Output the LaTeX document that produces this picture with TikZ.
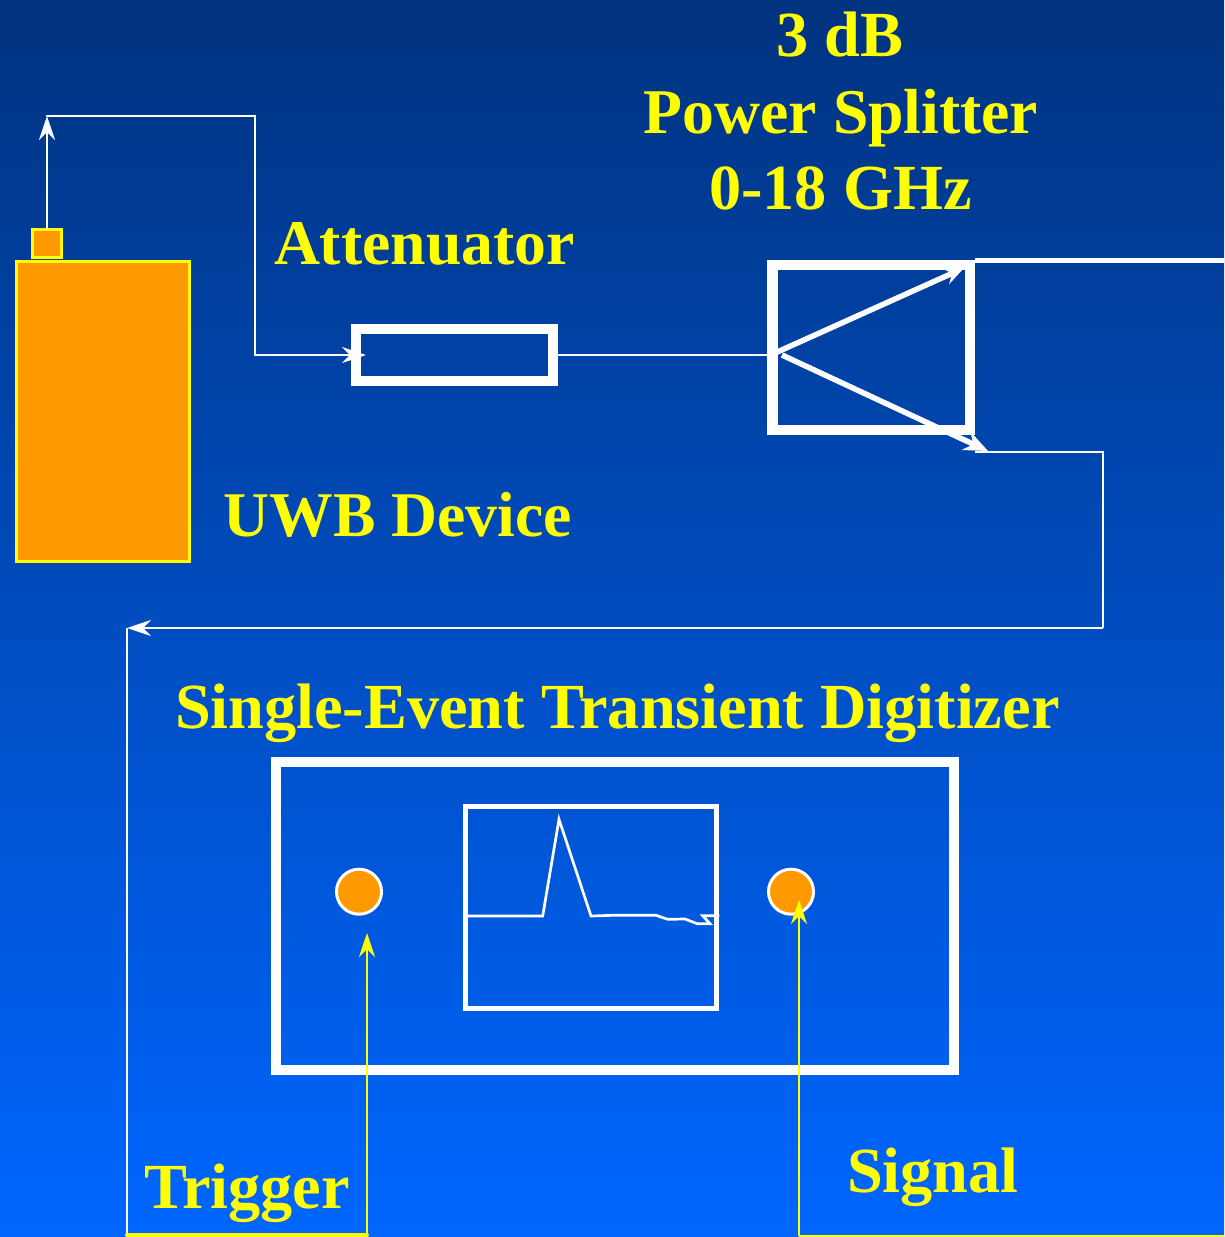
\documentclass[tikz,border=0pt]{standalone}
\usepackage{fontspec}
\setmainfont{Liberation Serif}
\usetikzlibrary{arrows.meta}
\definecolor{bgtop}{rgb}{0,.2,.5}
\definecolor{bgbottom}{rgb}{0,.4,1}
\definecolor{myorange}{rgb}{1,.6,0}
\definecolor{myyellow}{rgb}{1,1,0}
\tikzset{
  box/.style={draw=white,rectangle,inner sep=0pt,outer sep=0pt},
  device/.style={draw=myyellow,fill=myorange,line width=3pt,rectangle,inner sep=0pt,outer sep=0pt},
  port/.style={draw=white,fill=myorange,line width=3pt,circle,inner sep=0pt,outer sep=0pt,minimum size=45pt},
  label/.style={text=myyellow,font=\bfseries\fontsize{64.3}{76}\selectfont,inner sep=0pt,outer sep=0pt},
  shortlabel/.style={label,font=\bfseries\fontsize{63.7}{76}\selectfont},
  wire/.style={draw=white,line width=2.7pt},
  sigwire/.style={draw=myyellow,line width=2.7pt},
  tip/.style={-{Stealth[length=24pt,width=16pt,inset=8pt]}}
}

\begin{document}
\begin{tikzpicture}[x=1pt,y=-1pt]
    \useasboundingbox (0,0) rectangle (1224,1237);
    \shade[top color=bgtop,bottom color=bgbottom] (0,0) rectangle (1224,1237);

    % boxes
    \node[device,minimum width=173pt,minimum height=300pt] (uwb) at (103,411.5) {};
    \node[device,minimum width=29pt,minimum height=28pt] (head) at (47,243.5) {};
    \node[box,line width=10pt,minimum width=197pt,minimum height=52pt] (atten) at (454.5,355) {};
    \node[box,line width=10.5pt,minimum width=197.5pt,minimum height=165pt] (splitter) at (871.25,347.5) {};
    \node[box,line width=10pt,minimum width=678pt,minimum height=308pt] (digitizer) at (615,916) {};
    \node[box,line width=5pt,minimum width=251pt,minimum height=202pt] (screen) at (591,907.5) {};
    \node[port] (trigport) at (359,891.7) {};
    \node[port] (sigport) at (791,891.7) {};

    \coordinate (HeadTop)   at (47,116);
    \coordinate (TopBend)   at (255,116);
    \coordinate (InBend)    at (255,355);
    \coordinate (InTip)     at (366,355);
    \coordinate (SplitIn)   at (772,355);
    \coordinate (UpStart)   at (775,353);
    \coordinate (UpTip)     at (964,268);
    \coordinate (DownStart) at (782,355);
    \coordinate (DownTip)   at (988,451);
    \coordinate (OutTop)    at (975,260);
    \coordinate (OutTopEnd) at (1224,260);
    \coordinate (OutLow)    at (975,452);
    \coordinate (LowBend)   at (1103,452);
    \coordinate (RunRight)  at (1103,628);
    \coordinate (RunLeft)   at (127,628);
    \coordinate (TrigLow)   at (127,1235);
    \coordinate (TrigBend)  at (367,1235);
    \coordinate (TrigTip)   at (367,933);
    \coordinate (SigEnd)    at (1224,1236);
    \coordinate (SigBend)   at (799,1236);
    \coordinate (SigTip)    at (799,900);

    % white wires
    \draw[wire,tip] (head.north) -- (HeadTop);
    \draw[wire,line cap=round] (HeadTop) -- (TopBend) -- (InBend);
    \draw[wire,tip] (InBend) -- (InTip);
    \draw[wire] (atten.east) -- (SplitIn);
    \draw[wire,line width=5pt] (OutTop) -- (OutTopEnd);
    \draw[wire] (OutLow) -- (LowBend) -- (RunRight);
    \draw[wire,tip] (RunRight) -- (RunLeft);
    \draw[wire] (RunLeft) -- (TrigLow);

    % inside the splitter
    \draw[wire,line width=5.5pt,-{Stealth[length=20pt,width=17pt,inset=7pt]}] (UpStart) -- (UpTip);
    \draw[wire,line width=5.5pt,-{Stealth[length=24pt,width=20pt,inset=8pt]}] (DownStart) -- (DownTip);

    % yellow wires
    \draw[sigwire,line width=4pt,line cap=round] (TrigLow) -- (TrigBend);
    \draw[sigwire,tip] (TrigBend) -- (TrigTip);
    \draw[sigwire] (SigEnd) -- (SigBend);
    \draw[sigwire,tip] (SigBend) -- (SigTip);

    % pulse on the screen
    \draw[wire] (463,916) -- (542.7,916) -- (559,819.3) -- (591,916) -- (613,915.3)
        -- (656,915.3) -- (667.7,919.3) -- (685,919) -- (697.3,923.7) -- (710,923.7)
        -- (702.7,915.7) -- (719.3,915.7);

    % labels
    \node[label,anchor=base] (splitlabel) at (840,56) {3 dB};
    \node[shortlabel,anchor=base] (splitlabelb) at (841,133) {Power Splitter};
    \node[label,anchor=base] (splitlabelc) at (840.5,209) {0-18 GHz};
    \node[shortlabel,anchor=base west] (attenlabel) at (274,264) {Attenuator};
    \node[shortlabel,anchor=base west] (uwblabel) at (223.5,536) {UWB Device};
    \node[label,anchor=base west] (digilabel) at (175,728) {Single-Event Transient Digitizer};
    \node[label,anchor=base west] (triglabel) at (144,1208) {Trigger};
    \node[label,anchor=base west] (siglabel) at (847,1192) {Signal};
\end{tikzpicture}
\end{document}
